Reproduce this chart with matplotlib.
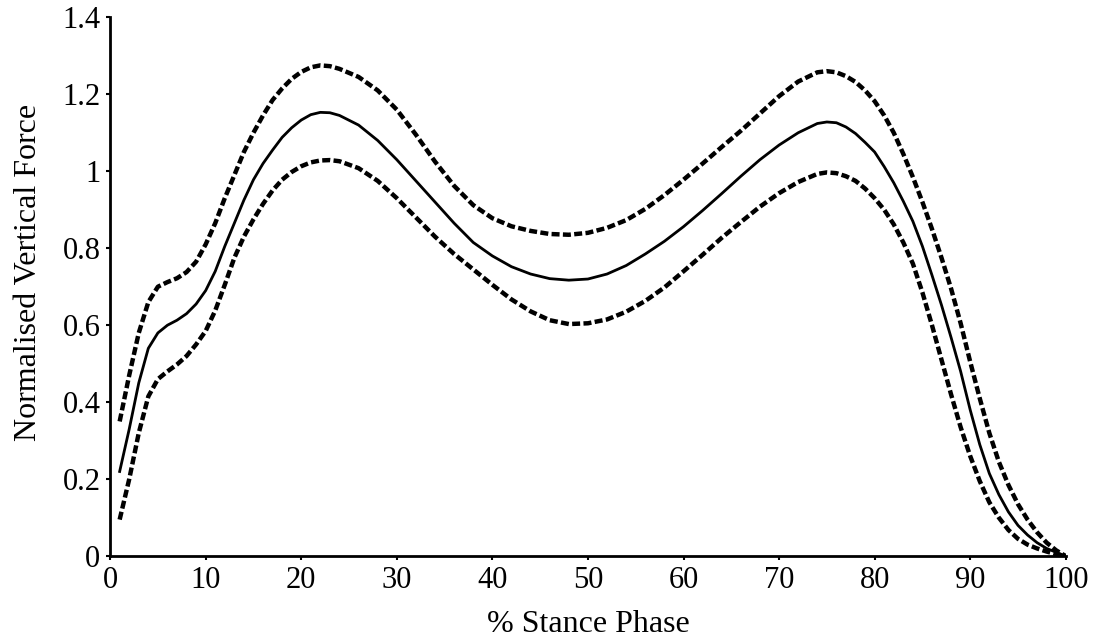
import matplotlib
matplotlib.use("Agg")
import matplotlib.pyplot as plt

plt.rcParams['font.family'] = ['Liberation Serif', 'DejaVu Serif']

# % stance phase sample points
stance = ([1, 2, 3, 4, 5, 6, 7, 8, 9, 10, 11, 12, 13, 14, 15, 16, 17, 18, 19, 20, 21, 22, 23, 24]
          + [26, 28, 30, 32, 34, 36, 38, 40, 42, 44, 46, 48, 50, 52, 54, 56, 58, 60, 62, 64,
             66, 68, 70, 72, 74]
          + [75, 76, 77, 78, 79, 80, 81, 82, 83, 84, 85, 86, 87, 88, 89, 90, 91, 92, 93, 94,
             95, 96, 97, 98, 99, 100])

force_mean = ([0.22, 0.33, 0.45, 0.54, 0.58, 0.60, 0.613, 0.63, 0.655, 0.69, 0.74, 0.805,
               0.865, 0.925, 0.978, 1.02, 1.055, 1.088, 1.113, 1.133, 1.147, 1.153, 1.152, 1.145]
              + [1.12, 1.08, 1.03, 0.975, 0.92, 0.865, 0.815, 0.78, 0.752, 0.733, 0.721, 0.717,
                 0.72, 0.733, 0.755, 0.785, 0.818, 0.856, 0.898, 0.942, 0.987, 1.03, 1.068,
                 1.1, 1.124]
              + [1.128, 1.126, 1.115, 1.098, 1.075, 1.05, 1.012, 0.97, 0.922, 0.87, 0.805, 0.73,
                 0.652, 0.568, 0.48, 0.38, 0.29, 0.215, 0.16, 0.115, 0.08, 0.055, 0.035, 0.02,
                 0.01, 0.0])

force_upper = ([0.35, 0.47, 0.58, 0.66, 0.70, 0.712, 0.722, 0.738, 0.765, 0.81, 0.865, 0.93,
                0.99, 1.05, 1.10, 1.145, 1.185, 1.215, 1.24, 1.258, 1.27, 1.275, 1.273, 1.266]
               + [1.245, 1.21, 1.16, 1.095, 1.025, 0.962, 0.912, 0.878, 0.857, 0.845, 0.837,
                  0.835, 0.84, 0.853, 0.873, 0.902, 0.938, 0.978, 1.02, 1.063, 1.105, 1.15,
                  1.195, 1.233, 1.257]
               + [1.26, 1.257, 1.247, 1.232, 1.21, 1.182, 1.145, 1.1, 1.045, 0.985, 0.92, 0.85,
                  0.775, 0.695, 0.605, 0.505, 0.41, 0.32, 0.245, 0.185, 0.135, 0.095, 0.062,
                  0.035, 0.015, 0.0])

force_lower = ([0.095, 0.2, 0.32, 0.415, 0.46, 0.48, 0.498, 0.52, 0.55, 0.585, 0.638, 0.705,
                0.775, 0.83, 0.875, 0.915, 0.95, 0.978, 0.998, 1.013, 1.023, 1.028, 1.029, 1.026]
               + [1.008, 0.975, 0.93, 0.88, 0.83, 0.785, 0.745, 0.705, 0.667, 0.636, 0.613,
                  0.603, 0.605, 0.615, 0.635, 0.663, 0.698, 0.74, 0.783, 0.827, 0.868, 0.908,
                  0.943, 0.972, 0.993]
               + [0.997, 0.995, 0.987, 0.975, 0.955, 0.93, 0.9, 0.862, 0.815, 0.76, 0.685, 0.6,
                  0.51, 0.42, 0.335, 0.26, 0.195, 0.14, 0.1, 0.068, 0.045, 0.03, 0.02, 0.012,
                  0.005, 0.0])

x_ticks = [0, 10, 20, 30, 40, 50, 60, 70, 80, 90, 100]
y_ticks = [0, 0.2, 0.4, 0.6, 0.8, 1.0, 1.2, 1.4]
y_labels = ['0', '0.2', '0.4', '0.6', '0.8', '1', '1.2', '1.4']

fig = plt.figure(figsize=(11.01, 6.4), dpi=100)
ax = fig.add_axes([0.1, 0.131, 0.868, 0.842])

ax.plot(stance, force_upper, color='black', lw=3.2, dashes=(1.8, 0.75))
ax.plot(stance, force_lower, color='black', lw=3.2, dashes=(1.8, 0.75))
ax.plot(stance, force_mean, color='black', lw=2.0)

ax.set_xlim(0, 100)
ax.set_ylim(0, 1.4)
ax.set_xticks(x_ticks)
ax.set_yticks(y_ticks)
ax.set_yticklabels(y_labels)
ax.tick_params(direction='out', length=3, width=1.5, labelsize=22, pad=4)

for side in ['top', 'right']:
    ax.spines[side].set_visible(False)
for side in ['left', 'bottom']:
    ax.spines[side].set_linewidth(2)

ax.set_xlabel('% Stance Phase', fontsize=23, labelpad=11)
ax.set_ylabel('Normalised Vertical Force', fontsize=23)
ax.yaxis.set_label_coords(-0.07, 0.527)

fig.savefig('out.png', dpi=100)
